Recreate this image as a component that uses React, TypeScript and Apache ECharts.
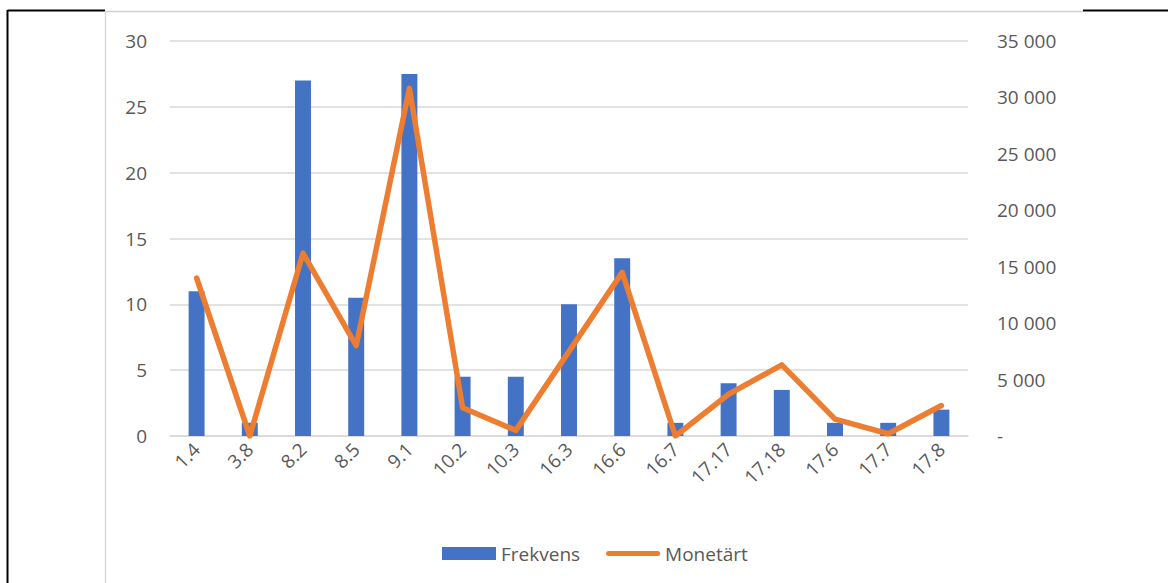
import React, { useEffect, useRef } from "react";
import * as echarts from "echarts";

const categories = ["1.4", "3.8", "8.2", "8.5", "9.1", "10.2", "10.3", "16.3", "16.6", "16.7", "17.17", "17.18", "17.6", "17.7", "17.8"];
const frekvens = [11, 1, 27, 10.5, 27.5, 4.5, 4.5, 10, 13.5, 1, 4, 3.5, 1, 1, 2];
const monetart = [14000, 0, 16200, 8000, 30800, 2500, 500, 7500, 14500, 0, 3700, 6300, 1500, 200, 2700];

const fmtRight = (v: number) => (v === 0 ? "-" : String(v).replace(/\B(?=(\d{3})+(?!\d))/g, " "));

export default function App() {
  const ref = useRef<HTMLDivElement>(null);
  useEffect(() => {
    const chart = echarts.init(ref.current!, undefined, { renderer: "svg" });
    const font = "'Open Sans', sans-serif";
    chart.setOption({
      animation: false,
      textStyle: { fontFamily: font },
      grid: { left: 170, right: 200, top: 41, bottom: 147 },
      legend: {
        left: 437,
        top: 539,
        itemWidth: 54,
        itemHeight: 13,
        itemGap: 26,
        symbolKeepAspect: true,
        textStyle: { color: "#595959", fontSize: 19, fontFamily: font },
        data: [
          { name: "Frekvens", icon: "rect" },
          {
            name: "Monetärt",
            icon: "path://M2.5,0 L51.5,0 A2.5,2.5 0 0 1 51.5,5 L2.5,5 A2.5,2.5 0 0 1 2.5,0 Z",
          },
        ],
      },
      xAxis: {
        type: "category",
        data: categories,
        axisLine: { lineStyle: { color: "#d9d9d9", width: 1.5 } },
        axisTick: { show: false },
        axisLabel: { color: "#595959", fontSize: 19, rotate: 45, margin: 10, interval: 0 },
      },
      yAxis: [
        {
          type: "value",
          min: 0,
          max: 30,
          interval: 5,
          axisLine: { show: false },
          axisTick: { show: false },
          axisLabel: { color: "#595959", fontSize: 19, margin: 23 },
          splitLine: { lineStyle: { color: "#d9d9d9", width: 1.5 } },
        },
        {
          type: "value",
          min: 0,
          max: 35000,
          interval: 5000,
          axisLine: { show: false },
          axisTick: { show: false },
          splitLine: { show: false },
          axisLabel: { color: "#595959", fontSize: 19, margin: 29, formatter: fmtRight },
        },
      ],
      series: [
        {
          name: "Frekvens",
          type: "bar",
          data: frekvens,
          barWidth: "30%",
          itemStyle: { color: "#4472C4" },
        },
        {
          name: "Monetärt",
          type: "line",
          yAxisIndex: 1,
          data: monetart,
          symbol: "none",
          lineStyle: { color: "#ED7D31", width: 5.5, cap: "round", join: "round" },
          itemStyle: { color: "#ED7D31" },
        },
      ],
      graphic: [
        { type: "line", shape: { x1: 7.5, y1: 10.5, x2: 105, y2: 10.5 }, style: { stroke: "#000", lineWidth: 2 } },
        { type: "line", shape: { x1: 1083, y1: 10.5, x2: 1168, y2: 10.5 }, style: { stroke: "#000", lineWidth: 2 } },
        { type: "line", shape: { x1: 105, y1: 11.5, x2: 1083, y2: 11.5 }, style: { stroke: "#d0d0d0", lineWidth: 1.5 } },
        { type: "line", shape: { x1: 7.5, y1: 10, x2: 7.5, y2: 583 }, style: { stroke: "#000", lineWidth: 2 } },
        { type: "line", shape: { x1: 105.5, y1: 11, x2: 105.5, y2: 583 }, style: { stroke: "#d9d9d9", lineWidth: 1.5 } },
      ],
    });
    return () => chart.dispose();
  }, []);
  return <div ref={ref} style={{ position: "fixed", left: 0, top: 0, width: 1168, height: 583, background: "#fff" }} />;
}
